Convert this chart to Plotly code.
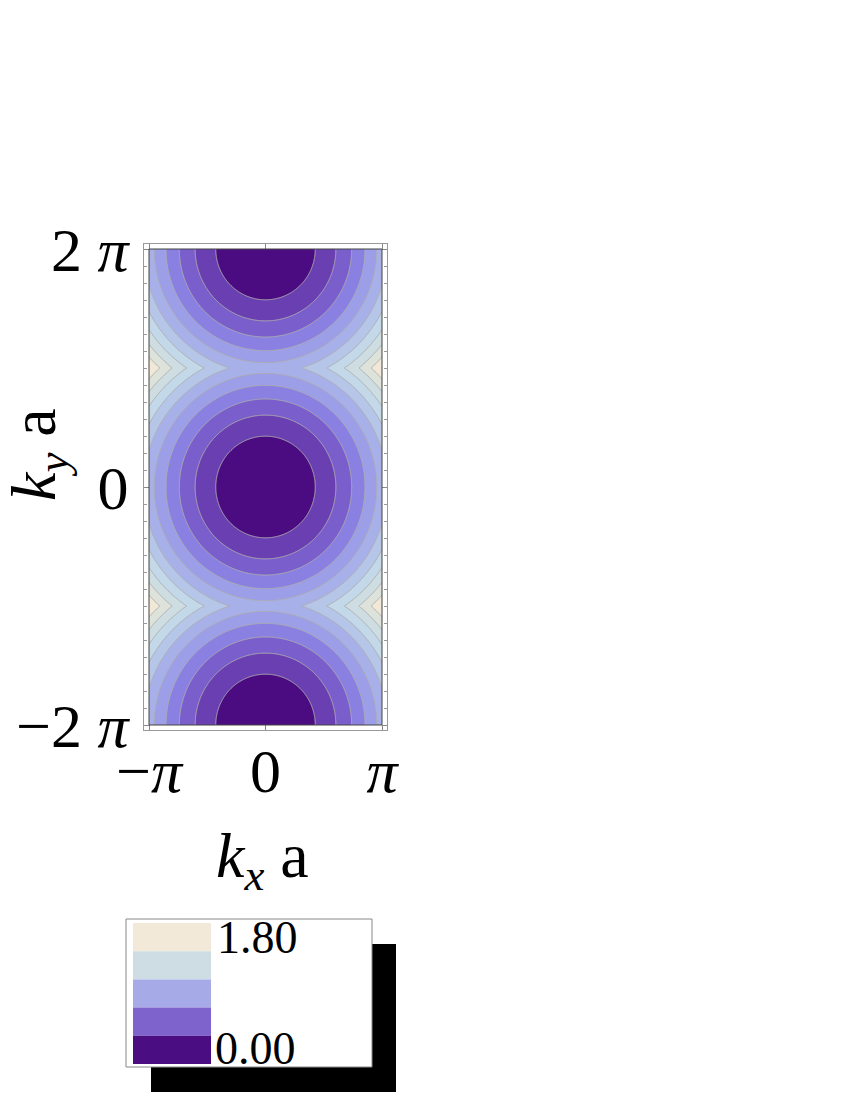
import numpy as np
import plotly.graph_objects as go

PI = np.pi

# ---- data -------------------------------------------------------------
# wave-vector ranges (plot range of the contour map)
kx_range = [-PI, PI]
ky_range = [-2 * PI, 2 * PI]
# reciprocal-lattice shifts along ky (circles centred at ky = -2pi, 0, 2pi)
G_y = [-2 * PI, 0.0, 2 * PI]
# contour levels
level_start = 1.8
level_end = 18.0
level_step = 1.8
# band colours (lowest band -> highest band)
band_colors = ["#4b0c82", "#6a3fb2", "#7a5fcc", "#8a80e2", "#9c9ee8",
               "#a8b0ea", "#b5c6e8", "#c3d8e8", "#cedde2", "#dde2da", "#f2e8d8"]
# tick labels
x_tickvals = [-PI, 0, PI]
x_ticktext = ["\u2212<i>\u03c0</i>", "0", "<i>\u03c0</i>"]
y_tickvals = [-2 * PI, 0, 2 * PI]
y_ticktext = ["\u22122 <i>\u03c0</i>", "0", "2 <i>\u03c0</i>"]
# legend
legend_colors = ["#f2e9d9", "#cddde3", "#a6abe8", "#7e63cc", "#4b0d82"]
legend_labels = ["1.80", "0.00"]

# ---- field --------------------------------------------------------------
kx = np.linspace(kx_range[0], kx_range[1], 481)
ky = np.linspace(ky_range[0], ky_range[1], 961)
KX, KY = np.meshgrid(kx, ky)
Z = np.min([KX ** 2 + (KY - g) ** 2 for g in G_y], axis=0)

# ---- layout geometry (pixels) ------------------------------------------
OFF = 8                      # page body margin
W, H = 850 - OFF, 1100 - OFF
L, T = 144 - OFF, 244 - OFF
R, B = W - (387 - OFF), H - (730 - OFF)
PW, PH = W - L - R, H - T - B
pad = 5
xpad = pad * (kx_range[1] - kx_range[0]) / (PW - 2 * pad)
ypad = pad * (ky_range[1] - ky_range[0]) / (PH - 2 * pad)


def px(x):
    return (x - OFF - L) / PW


def py(y):
    return (H - B - (y - OFF)) / PH


FONT = "Liberation Serif"
n_bands = len(band_colors)
colorscale = [[i / (n_bands - 1), c] for i, c in enumerate(band_colors)]

fig = go.Figure()
fig.add_trace(go.Contour(
    x=kx, y=ky, z=Z,
    contours=dict(start=level_start, end=level_end, size=level_step, coloring="fill"),
    colorscale=colorscale,
    line=dict(color="rgba(175,175,175,1)", width=1),
    showscale=False,
    hoverinfo="skip",
))

# dark border of the plotted region
fig.add_shape(type="rect", xref="x", yref="y",
              x0=kx_range[0], x1=kx_range[1], y0=ky_range[0], y1=ky_range[1],
              line=dict(color="#444444", width=1), layer="above")

# ---- legend (drop-shadowed swatch box) ----------------------------------
fig.add_shape(type="rect", xref="paper", yref="paper",
              x0=px(151), x1=px(396), y0=py(944), y1=py(1092),
              fillcolor="black", line=dict(width=0))
fig.add_shape(type="rect", xref="paper", yref="paper",
              x0=px(126), x1=px(372), y0=py(919), y1=py(1067),
              fillcolor="white", line=dict(color="#888888", width=1))
sw_top, sw_bot = 923, 1064
sw_h = (sw_bot - sw_top) / len(legend_colors)
for i, c in enumerate(legend_colors):
    fig.add_shape(type="rect", xref="paper", yref="paper",
                  x0=px(133), x1=px(211),
                  y0=py(sw_top + (i + 1) * sw_h), y1=py(sw_top + i * sw_h),
                  fillcolor=c, line=dict(width=0))
fig.add_annotation(text=legend_labels[0], xref="paper", yref="paper",
                   x=px(215), y=py(910), xanchor="left", yanchor="top",
                   showarrow=False, font=dict(family=FONT, size=46, color="black"))
fig.add_annotation(text=legend_labels[1], xref="paper", yref="paper",
                   x=px(213), y=py(1076), xanchor="left", yanchor="bottom",
                   showarrow=False, font=dict(family=FONT, size=46, color="black"))

# ---- axis titles --------------------------------------------------------
fig.add_annotation(text="<i>k<sub>x</sub></i> a", xref="paper", yref="paper",
                   x=px(262), y=py(860), xanchor="center", yanchor="middle",
                   showarrow=False, font=dict(family=FONT, size=64, color="black"))
fig.add_annotation(text="<i>k<sub>y</sub></i> a", xref="paper", yref="paper",
                   x=px(38), y=py(455), xanchor="center", yanchor="middle",
                   textangle=-90,
                   showarrow=False, font=dict(family=FONT, size=64, color="black"))

axis_common = dict(showgrid=False, zeroline=False, showline=True,
                   linecolor="#999999", linewidth=1, mirror="ticks",
                   ticks="inside", ticklen=5, tickcolor="#888888",
                   automargin=False,
                   tickfont=dict(family=FONT, size=62, color="black"))

fig.update_xaxes(range=[kx_range[0] - xpad, kx_range[1] + xpad],
                 tickvals=x_tickvals, ticktext=x_ticktext,
                 ticklabelstandoff=-13, **axis_common)
fig.update_yaxes(range=[ky_range[0] - ypad, ky_range[1] + ypad],
                 tickvals=y_tickvals, ticktext=y_ticktext,
                 ticklabelstandoff=2,
                 minor=dict(dtick=PI / 7, tick0=0, ticks="inside", ticklen=3,
                            tickcolor="#999999", showgrid=False),
                 **axis_common)

fig.update_layout(width=W, height=H, margin=dict(l=L, r=R, t=T, b=B),
                  paper_bgcolor="white", plot_bgcolor="white",
                  showlegend=False)

fig.write_html("out.html")
